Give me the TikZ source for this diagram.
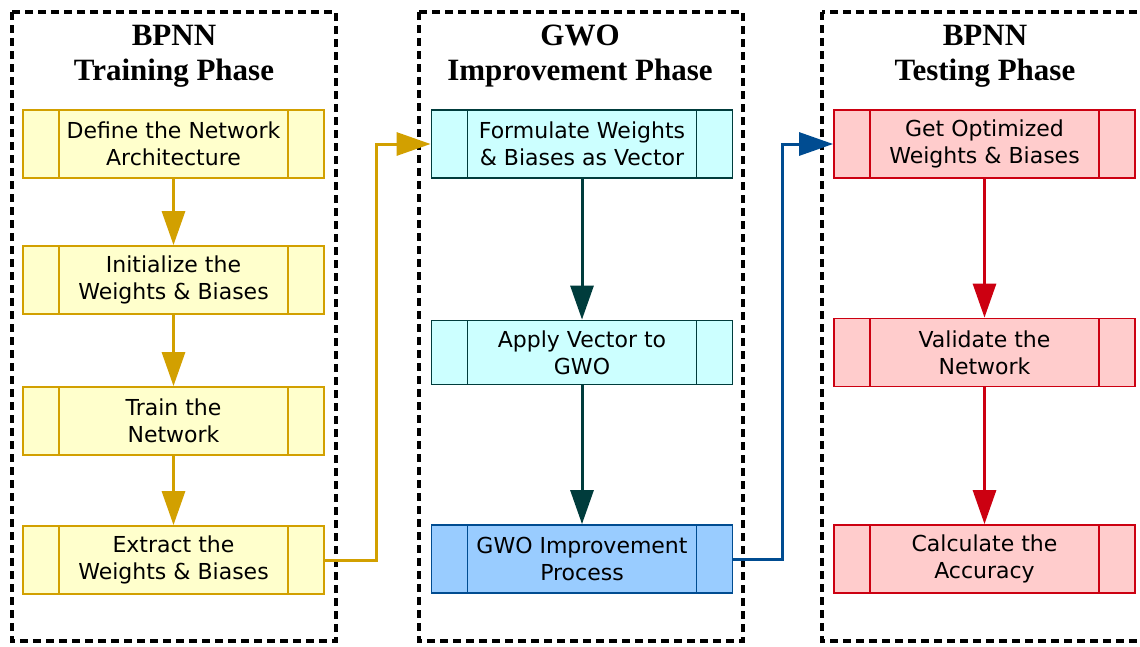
\documentclass[tikz,border=0pt]{standalone}
\usepackage{fontspec}
\setmainfont{Liberation Serif}
\newfontfamily\boxfont{DejaVu Sans}
\usetikzlibrary{arrows.meta,positioning,calc}
\definecolor{goldline}{RGB}{210,160,0}
\definecolor{goldfill}{RGB}{255,255,204}
\definecolor{tealline}{RGB}{0,60,60}
\definecolor{cyanfill}{RGB}{204,255,255}
\definecolor{blueline}{RGB}{0,76,145}
\definecolor{bluefill}{RGB}{153,204,255}
\definecolor{redline}{RGB}{204,0,17}
\definecolor{redfill}{RGB}{255,204,204}
\tikzset{%
  phaseframe/.style={draw=black, line width=3.5pt, dash pattern=on 8pt off 5pt},% dotted phase frame
  phasetitle/.style={align=center, font=\fontsize{31}{35}\selectfont\bfseries},% phase heading
  procbox/.style={draw=#1, line width=1.8pt, minimum width=301pt, minimum height=68pt,
    align=center, text=black, font=\boxfont\fontsize{22}{27}\selectfont,
    path picture={
      \draw[#1, line width=1.8pt]
        ([xshift=36pt]path picture bounding box.north west) -- ([xshift=36pt]path picture bounding box.south west)
        ([xshift=-36pt]path picture bounding box.north east) -- ([xshift=-36pt]path picture bounding box.south east);
    }},% process box with side bars
  trainbox/.style={procbox=goldline, fill=goldfill},
  gwobox/.style={procbox=tealline, fill=cyanfill},
  gwomain/.style={procbox=blueline, fill=bluefill},
  testbox/.style={procbox=redline, fill=redfill},
  flow/.style={line width=3pt, -{Triangle[length=34pt, width=23pt]}}% flow arrow
}
\begin{document}
\begin{tikzpicture}[x=1pt, y=-1pt]
\useasboundingbox (0,0) rectangle (1140,646);

% phase frames
\draw[phaseframe] (12,12) rectangle (336,641);
\draw[phaseframe] (419,12) rectangle (743,641);
\draw[phaseframe] (822,12) rectangle (1150,641);

\node[phasetitle] (titletrain) at (174,56) {BPNN\\Training Phase};
\node[phasetitle] (titlegwo) at (580,56) {GWO\\Improvement Phase};
\node[phasetitle] (titletest) at (985,56) {BPNN\\Testing Phase};

% training phase
\node[trainbox] (define) at (173.5,144) {Define the Network\\Architecture};
\node[trainbox] (init) at (173.5,280) {Initialize the\\Weights \& Biases};
\node[trainbox] (train) at (173.5,421) {Train the\\Network};
\node[trainbox] (extract) at (173.5,560) {Extract the\\Weights \& Biases};

% improvement phase
\node[gwobox] (formulate) at (582,144) {Formulate Weights\\\& Biases as Vector};
\node[gwobox, minimum height=64pt] (apply) at (582,352.5) {Apply Vector to\\GWO};
\node[gwomain] (improve) at (582,559) {GWO Improvement\\Process};

% testing phase
\node[testbox] (optimized) at (984.5,144) {Get Optimized\\Weights \& Biases};
\node[testbox] (validate) at (984.5,352.5) {Validate the\\Network};
\node[testbox] (accuracy) at (984.5,559) {Calculate the\\Accuracy};

\draw[flow, goldline] (define) -- (init);
\draw[flow, goldline] (init) -- (train);
\draw[flow, goldline] (train) -- (extract);
\draw[flow, tealline] (formulate) -- (apply);
\draw[flow, tealline] (apply) -- (improve);
\draw[flow, redline] (optimized) -- (validate);
\draw[flow, redline] (validate) -- (accuracy);

\draw[flow, goldline] (extract.east) -| ([xshift=-54pt]formulate.west) -- (formulate.west);
\draw[flow, blueline] (improve.east) -| ([xshift=-51pt]optimized.west) -- (optimized.west);

\end{tikzpicture}
\end{document}
